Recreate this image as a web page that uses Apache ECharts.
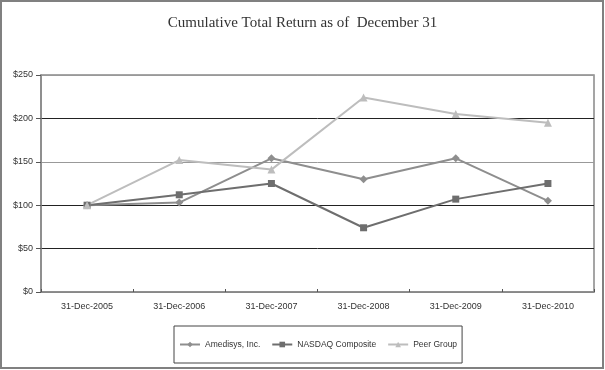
<!DOCTYPE html>
<html><head><meta charset="utf-8">
<script src="https://cdn.jsdelivr.net/npm/echarts@6/dist/echarts.min.js"></script>
<style>html,body{margin:0;padding:0;background:#fff}#c{width:605px;height:370px}</style>
</head><body><div id="c"></div>
<script>
var categories = ['31-Dec-2005','31-Dec-2006','31-Dec-2007','31-Dec-2008','31-Dec-2009','31-Dec-2010'];
var amedisys = [100, 103, 154, 130, 154, 105];
var nasdaq = [100, 112, 125, 74, 107, 125];
var peer = [100, 152, 141, 224, 205, 195];
var yTicks = [0, 50, 100, 150, 200, 250];

var chart = echarts.init(document.getElementById('c'));
chart.setOption({
  animation: false,
  backgroundColor: '#fff',
  title: {
    text: 'Cumulative Total Return as of  December 31',
    left: 'center', top: 11,
    textStyle: {fontFamily: 'Liberation Serif', fontSize: 15, fontWeight: 'normal', color: '#333'}
  },
  graphic: [{
    type: 'rect', shape: {x: 1, y: 1, width: 602, height: 367},
    style: {fill: 'none', stroke: '#808080', lineWidth: 2}, silent: true
  }],
  grid: {left: 41, right: 11, top: 75, bottom: 78, show: true, borderColor: '#888', borderWidth: 1.5},
  legend: {
    bottom: 7, left: 174, itemGap: 11, itemWidth: 20, itemHeight: 7,
    padding: [14, 5, 14, 5],
    borderColor: '#444', borderWidth: 1,
    textStyle: {fontFamily: 'Liberation Sans', fontSize: 8.5, color: '#333'},
    data: ['Amedisys, Inc.', 'NASDAQ Composite', 'Peer Group']
  },
  xAxis: {
    type: 'category', data: categories, boundaryGap: true,
    axisLine: {lineStyle: {color: '#888', width: 1.5}},
    axisTick: {show: true, inside: true, length: 3, lineStyle: {color: '#555'}},
    axisLabel: {fontFamily: 'Liberation Sans', fontSize: 9, color: '#333', margin: 10}
  },
  yAxis: {
    type: 'value', min: 0, max: 250, interval: 50,
    axisLine: {show: true, lineStyle: {color: '#888', width: 1.5}},
    axisTick: {show: true, inside: false, length: 5, lineStyle: {color: '#555'}},
    axisLabel: {fontFamily: 'Liberation Sans', fontSize: 9, color: '#333', margin: 8,
      formatter: function(v){ return '$' + v; }},
    splitLine: {show: true, lineStyle: {color: ['#888', '#222', '#222', '#999', '#222', '#999'], width: 1}}
  },
  series: [
    {name: 'Amedisys, Inc.', type: 'line', data: amedisys, symbol: 'diamond', symbolSize: 8,
      itemStyle: {color: '#8e8e8e'}, lineStyle: {color: '#8e8e8e', width: 2}},
    {name: 'NASDAQ Composite', type: 'line', data: nasdaq, symbol: 'rect', symbolSize: 7,
      itemStyle: {color: '#6e6e6e'}, lineStyle: {color: '#6e6e6e', width: 2}},
    {name: 'Peer Group', type: 'line', data: peer, symbol: 'triangle', symbolSize: 8,
      itemStyle: {color: '#bdbdbd'}, lineStyle: {color: '#bdbdbd', width: 2}}
  ]
});
</script></body></html>
